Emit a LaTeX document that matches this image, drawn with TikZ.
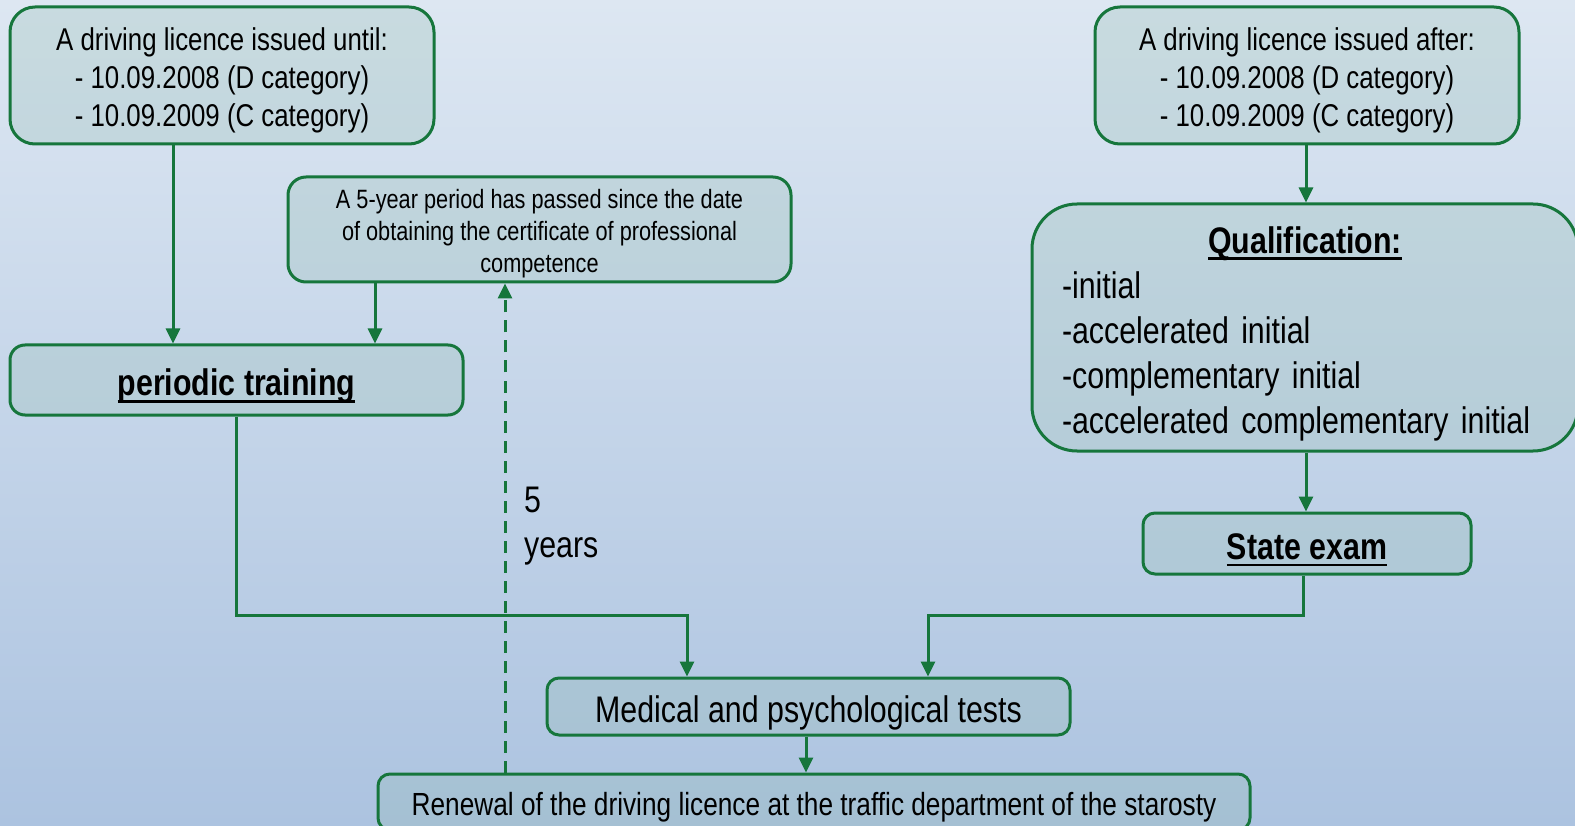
\documentclass[tikz,border=0pt]{standalone}
\usepackage{fontspec}
\setmainfont[FakeStretch=0.82]{Liberation Sans}
\usetikzlibrary{arrows.meta}

\definecolor{bgtop}{RGB}{221,231,242}
\definecolor{bgbottom}{RGB}{172,195,224}
\definecolor{lineg}{RGB}{22,118,60}
\definecolor{boxfill}{RGB}{145,187,175}

\newsavebox{\hlbox}
\newcommand{\headline}[1]{\sbox{\hlbox}{\textbf{#1}}\rlap{\rule[-7.1pt]{\wd\hlbox}{2.8pt}}\usebox{\hlbox}}
\newcommand{\lift}{\rule{0pt}{1.05em}}

\begin{document}
\begin{tikzpicture}[
                x=1pt, y=-1pt,
                box/.style={
                        draw=lineg,
                        line width=3pt,
                        fill=boxfill,
                        fill opacity=0.26,
                        text opacity=1,
                        align=center,
                        inner sep=0pt,
                        rounded corners=#1
                    },
                box/.default=13pt,
                conn/.style={
                        draw=lineg,
                        line width=3pt,
                        -{Triangle[width=14pt,length=15pt]}
                    },
                dashconn/.style={conn, dash pattern=on 12pt off 8pt},
                bigfont/.style={font=\fontsize{37}{45}\selectfont},
                midfont/.style={font=\fontsize{31.5}{38}\selectfont},
                smallfont/.style={font=\fontsize{26.5}{32}\selectfont}
            ]

            % Background
            \useasboundingbox (0,0) rectangle (1575,826);
            \clip (0,0) rectangle (1575,826);
            \shade[top color=bgtop, bottom color=bgbottom] (0,0) rectangle (1575,826);

            % Left branch
            \node[box=25pt, midfont, minimum width=424pt, minimum height=137pt] (until) at (222,75.5)
                {\lift A driving licence issued until:\\- 10.09.2008 (D category)\\- 10.09.2009 (C category)};
            \node[box=18pt, smallfont, minimum width=503pt, minimum height=105pt] (period) at (539.5,229.5)
                {\lift A 5-year period has passed since the date\\of obtaining the certificate of professional\\competence};
            \node[box=15pt, bigfont, minimum width=453pt, minimum height=70pt] (training) at (236.5,380)
                {\lift\headline{periodic training}};

            % Right branch
            \node[box=25pt, midfont, minimum width=424pt, minimum height=137pt] (after) at (1307,75.5)
                {\lift A driving licence issued after:\\- 10.09.2008 (D category)\\- 10.09.2009 (C category)};
            \node[box=45pt, bigfont, minimum width=546pt, minimum height=247pt, text width=486pt, align=left] (qualif) at (1305,327.5)
                {\lift\hfill\headline{Qualification:}\hfill\null\\-initial\\-accelerated initial\\-complementary initial\\-accelerated complementary initial};
            \node[box=12pt, bigfont, minimum width=328pt, minimum height=61pt] (exam) at (1307,543.5)
                {\lift\headline{State exam}};

            % Bottom
            \node[box=12pt, bigfont, minimum width=523pt, minimum height=57pt] (tests) at (808.5,706.5)
                {\lift Medical and psychological tests};
            \node[box=12pt, font=\fontsize{32}{38}\selectfont, minimum width=872pt, minimum height=56pt] (renewal) at (814,802)
                {\lift Renewal of the driving licence at the traffic department of the starosty};

            % Label of the dashed connector
            \node[bigfont, align=left, inner sep=0pt, anchor=north west] (years) at (524,487) {5\\years};

            % Junctions
            \coordinate (jleft) at (687,615);
            \coordinate (jright) at (928,615);

            % Connectors
            \draw[conn] (173,0 |- until.south) -- (173,0 |- training.north);
            \draw[conn] (375,0 |- period.south) -- (375,0 |- training.north);
            \draw[dashconn] (505,0 |- renewal.north) -- (505,0 |- period.south);
            \draw[conn] (training.south) |- (jleft) -- (jleft |- tests.north);
            \draw[conn] (1303,0 |- exam.south) |- (jright) -- (jright |- tests.north);
            \draw[conn] (1306,0 |- after.south) -- (1306,0 |- qualif.north);
            \draw[conn] (1306,0 |- qualif.south) -- (1306,0 |- exam.north);
            \draw[conn] (806,0 |- tests.south) -- (806,0 |- renewal.north);

        \end{tikzpicture}
\end{document}
